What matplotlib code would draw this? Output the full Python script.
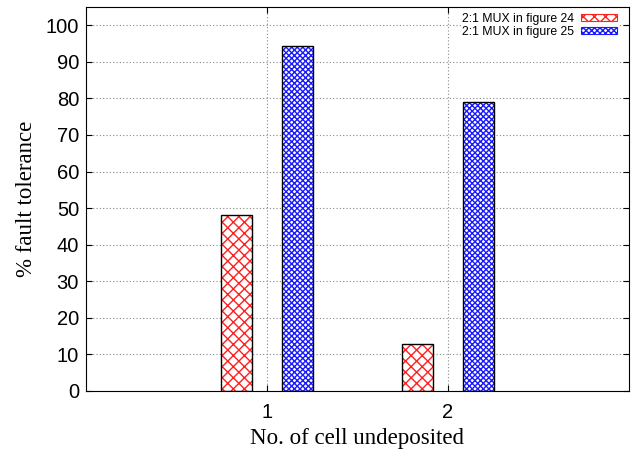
import matplotlib.pyplot as plt
import matplotlib.patches as mpatches
import numpy as np

# data
groups = [1, 2]
fig24 = [48.2, 12.8]
fig25 = [94.2, 78.9]
labels = ['2:1 MUX in figure 24', '2:1 MUX in figure 25']

fig = plt.figure(figsize=(6.33, 4.49), dpi=100)
ax = fig.add_axes([86 / 633, 58 / 449, 543 / 633, 384 / 449])

x = np.array(groups, dtype=float)
w = 0.17
off = 0.167

# hatched fill, then black outline on top
ax.bar(x - off, fig24, w, color='white', edgecolor='#ff2020', hatch='xxx', linewidth=0, zorder=2)
ax.bar(x - off, fig24, w, fill=False, edgecolor='black', linewidth=1.0, zorder=3)
ax.bar(x + off, fig25, w, color='white', edgecolor='#1a1aff', hatch='xxxxxx', linewidth=0, zorder=2)
ax.bar(x + off, fig25, w, fill=False, edgecolor='black', linewidth=1.0, zorder=3)

ax.set_xlim(0, 3)
ax.set_ylim(0, 105)
ax.set_xticks(groups)
ax.set_yticks(range(0, 101, 10))
ax.tick_params(direction='in', top=True, right=True, labelsize=14.5, length=4)
ax.tick_params(axis='y', pad=5)
ax.tick_params(axis='x', pad=9)
for lab in ax.get_xticklabels() + ax.get_yticklabels():
    lab.set_family('Liberation Sans')

ax.grid(True, linestyle=(0, (1, 2)), color='#888888', linewidth=0.8, zorder=0)
ax.set_axisbelow(True)

ax.set_xlabel('No. of cell undeposited', family='Liberation Serif', fontsize=16.5, labelpad=4)
ax.set_ylabel('% fault tolerance', family='Liberation Serif', fontsize=16.5, labelpad=6)

h1 = mpatches.Patch(facecolor='white', edgecolor='#ff2020', hatch='xxx')
h2 = mpatches.Patch(facecolor='white', edgecolor='#1a1aff', hatch='xxxxxx')
leg = ax.legend([h1, h2], labels, loc='upper right', bbox_to_anchor=(1 - 10 / 543, 1 - 4 / 384),
                markerfirst=False, frameon=True, fancybox=False, edgecolor='none',
                framealpha=1, borderpad=0.15, borderaxespad=0, labelspacing=0.08,
                handlelength=2.95, handleheight=0.5, handletextpad=0.55,
                prop={'family': 'Liberation Sans', 'size': 8.8})
for p in leg.get_patches():
    p.set_linewidth(0.8)

plt.savefig('out.png', dpi=100)
